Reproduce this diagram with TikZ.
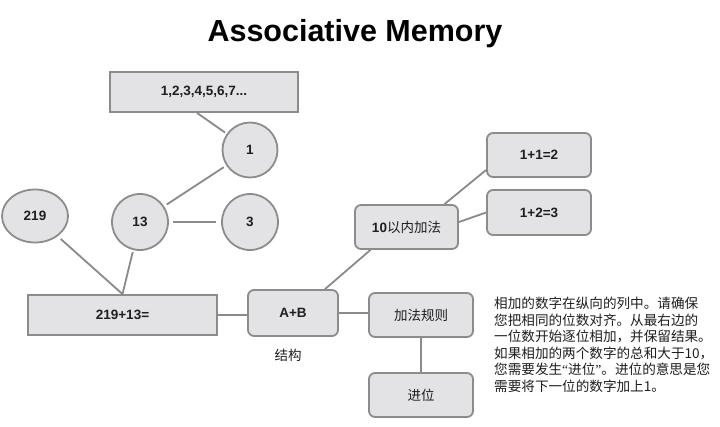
\documentclass[tikz,border=0pt]{standalone}
\usepackage{fontspec}
\setmainfont{Liberation Sans}
\newfontfamily\cjk{Noto Sans CJK SC}
\newfontfamily\lat{Liberation Serif}
\usetikzlibrary{shapes.geometric}
\definecolor{boxfill}{HTML}{E3E3E6}
\definecolor{boxdraw}{HTML}{8C8C8C}
\definecolor{linecol}{HTML}{8A8A8A}
\definecolor{txt}{HTML}{1E1E1E}
\tikzset{
  sqbox/.style={draw=boxdraw, fill=boxfill, line width=1.8pt, inner sep=0pt, text=txt, font=\fontsize{13.5}{16}\selectfont\bfseries},
  rbox/.style={sqbox, rounded corners=6pt, minimum width=104pt, minimum height=44pt},
  circ/.style={ellipse, draw=boxdraw, fill=boxfill, line width=1.8pt, inner sep=0pt, text=txt, font=\fontsize{13.5}{16}\selectfont\bfseries},
  conn/.style={draw=linecol, line width=1.8pt},
  cn/.style={font=\fontsize{13.5}{16}\selectfont\cjk\mdseries}
}
\begin{document}
\begin{tikzpicture}[x=1pt,y=-1pt]
\useasboundingbox (0,0) rectangle (720,426);
\node[font=\fontsize{30.5}{34}\selectfont\bfseries, text=black] (title) at (355,34) {Associative Memory};

\node[sqbox, minimum width=188pt, minimum height=40pt] (top) at (204,92) {1,2,3,4,5,6,7...};
\node[circ, minimum width=55pt, minimum height=55pt] (n1) at (250,150) {1};
\node[circ, minimum width=66pt, minimum height=53pt] (n219) at (35,216) {219};
\node[circ, minimum width=56pt, minimum height=56pt] (n13) at (140,222) {13};
\node[circ, minimum width=56pt, minimum height=56pt] (n3) at (250,222) {3};
\node[sqbox, minimum width=189pt, minimum height=40pt] (eq) at (122.5,315) {219+13=};

\node[rbox, minimum width=90pt, minimum height=46pt] (ab) at (293,313) {A+B};
\node[cn, text=txt] (struct) at (288,355) {结构};
\node[rbox] (rule) at (421,315) {{\cjk\mdseries 加法规则}};
\node[rbox] (carry) at (421,395) {{\cjk\mdseries 进位}};
\node[rbox, minimum width=103pt] (ten) at (406.5,227) {10{\cjk\mdseries 以内加法}};
\node[rbox] (s1) at (539,155) {1+1=2};
\node[rbox, minimum height=45pt] (s2) at (539,212.5) {1+2=3};

\node[anchor=north west, align=left, inner sep=0pt, text=txt,
      font=\fontsize{13.6}{16.5}\selectfont\cjk] (note) at (494,297)
{相加的数字在纵向的列中。请确保\\
您把相同的位数对齐。从最右边的\\
一位数开始逐位相加，并保留结果。\\
如果相加的两个数字的总和大于10，\\
您需要发生{\lat “}进位{\lat ”}。进位的意思是您\\
需要将下一位的数字加上1。};

\draw[conn, shorten >=2pt] ([xshift=-7pt]top.south) -- (n1);
\draw[conn, shorten <=3pt, shorten >=3pt] (n13) -- (n1);
\draw[conn, shorten <=4pt, shorten >=5pt] (n13) -- (n3);
\draw[conn, shorten <=4pt] (n219) -- (eq.north);
\draw[conn, shorten <=2pt] (n13) -- (eq.north);
\draw[conn] (eq.east) -- (eq.east -| ab.west);
\draw[conn] (ab.east) -- (ab.east -| rule.west);
\draw[conn] (rule.south) -- (carry.north);
\draw[conn] ([xshift=32pt]ab.north) -- ([xshift=-36pt]ten.south);
\draw[conn] ([xshift=38pt]ten.north) -- ([yshift=-15pt]s1.west);
\draw[conn] ([yshift=5pt]ten.east) -- (s2.west);
\end{tikzpicture}
\end{document}
